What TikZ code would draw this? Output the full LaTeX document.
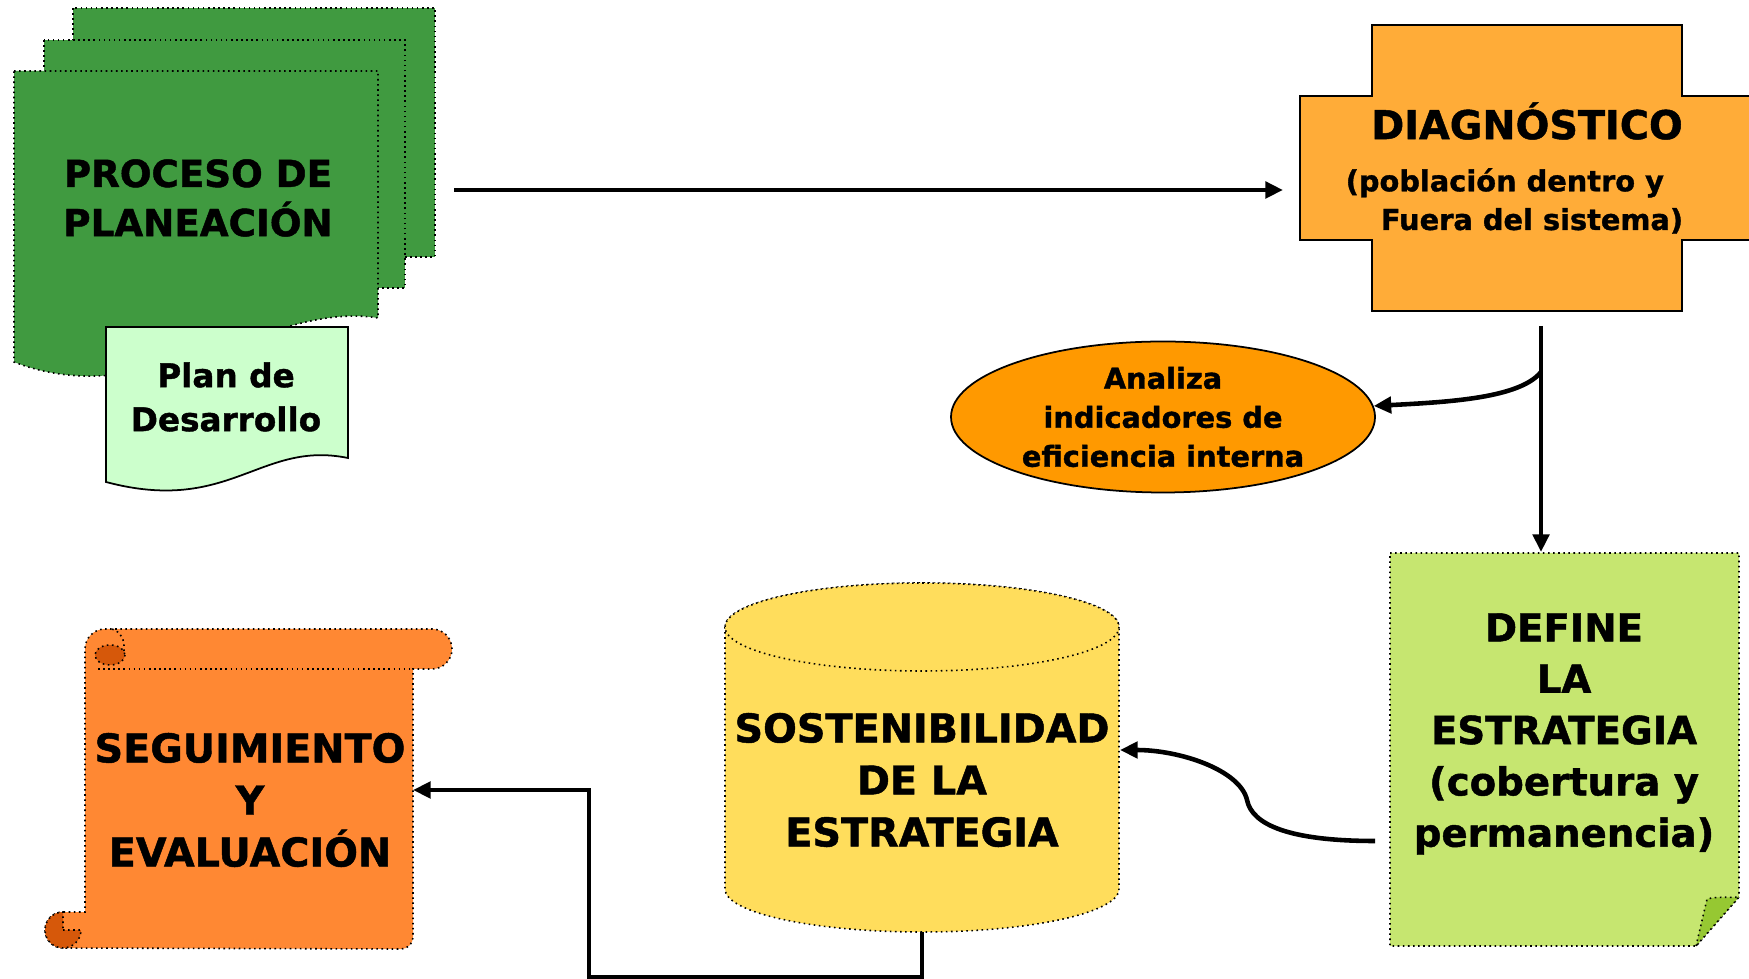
\documentclass[tikz,border=0pt]{standalone}
\usepackage{fontspec}
\setmainfont{DejaVu Sans}[BoldFeatures={FakeBold=1.2}]
\usetikzlibrary{arrows.meta,shapes.geometric}

\definecolor{docgreen}{RGB}{64,154,64}
\definecolor{plangreen}{RGB}{204,255,204}
\definecolor{diagorange}{RGB}{255,172,56}
\definecolor{ellorange}{RGB}{255,153,0}
\definecolor{notegreen}{RGB}{198,230,112}
\definecolor{foldgreen}{RGB}{150,200,50}
\definecolor{cylyellow}{RGB}{255,221,92}
\definecolor{scrollorange}{RGB}{255,136,51}
\definecolor{rolldark}{RGB}{214,88,10}

\tikzset{
  flecha/.style={line width=1.3pt, -{Triangle[length=5pt,width=4.6pt]}},
  punteado/.style={draw=black, densely dotted, line width=0.45pt},
  textobig/.style={font=\bfseries\fontsize{11.3}{14.8}\selectfont, align=center, inner sep=0pt},
  textosmall/.style={font=\bfseries\fontsize{8.2}{11}\selectfont, align=center, inner sep=0pt}
}

\begin{document}
\begin{tikzpicture}[x=0.1mm,y=-0.1mm]

    \useasboundingbox (0,0) rectangle (1749,979);
    \clip (0,0) rectangle (1749,979);

    % Proceso de planeacion (three sheets)
    \filldraw[fill=docgreen, punteado] (73,8) rectangle (435,257);
    \filldraw[fill=docgreen, punteado] (44,40) rectangle (405,288);
    \filldraw[fill=docgreen, punteado] (14,71) -- (378,71) -- (378,318)
        .. controls (270,300) and (150,415) .. (14,362) -- cycle;
    \node[textobig, font=\bfseries\fontsize{10.6}{14}\selectfont] (proceso) at (198,198) {PROCESO DE\\PLANEACIÓN};

    % Plan de desarrollo
    \filldraw[fill=plangreen, draw=black, line width=0.5pt] (106,327) -- (348,327) -- (348,458)
        .. controls (260,440) and (230,515) .. (106,482) -- cycle;
    \node[textobig, font=\bfseries\fontsize{9.3}{12.5}\selectfont] (plan) at (226,397) {Plan de\\Desarrollo};

    % Diagnostico (cross)
    \filldraw[fill=diagorange, draw=black, line width=0.5pt] (1372,25) -- (1682,25) -- (1682,96) -- (1760,96)
        -- (1760,240) -- (1682,240) -- (1682,311) -- (1372,311) -- (1372,240) -- (1300,240)
        -- (1300,96) -- (1372,96) -- cycle;
    \node[textobig] (diag) at (1527,121) {DIAGNÓSTICO};
    \node[textosmall, align=left, anchor=west] (diagsub) at (1345,201)
        {(población dentro y\\\hspace*{10pt}Fuera del sistema)};

    % Analiza indicadores
    \node[ellipse, draw=black, line width=0.5pt, fill=ellorange, minimum width=42.4mm,
          minimum height=15.1mm, textosmall, font=\bfseries\fontsize{8.2}{11.1}\selectfont]
        (analiza) at (1163,417) {Analiza\\indicadores de\\eficiencia interna};

    % Define la estrategia (note)
    \filldraw[fill=notegreen, punteado] (1390,553) -- (1739,553) -- (1739,897) -- (1696,946)
        -- (1390,946) -- cycle;
    \filldraw[fill=foldgreen, punteado] (1696,946) -- (1707,899) .. controls (1718,896) and (1730,898) .. (1739,897) -- cycle;
    \node[textobig, font=\bfseries\fontsize{11}{14.6}\selectfont] (nota) at (1564,734)
        {DEFINE\\LA\\ESTRATEGIA\\(cobertura y\\permanencia)};

    % Sostenibilidad (cylinder)
    \filldraw[fill=cylyellow, punteado] (725,627) -- (725,889) arc (180:0:197 and 43)
        -- (1119,627) arc (0:-180:197 and 44) -- cycle;
    \filldraw[fill=cylyellow, punteado] (922,627) ellipse (197 and 44);
    \node[textobig] (sost) at (922,780) {SOSTENIBILIDAD\\DE LA\\ESTRATEGIA};

    % Seguimiento y evaluacion (scroll)
    \filldraw[fill=scrollorange, punteado] (105,629) -- (432,629) arc (-90:90:20) -- (413,669)
        -- (413,937) arc (0:90:12) -- (63,948) arc (90:270:18) -- (85,912)
        -- (85,649) arc (180:270:20) -- cycle;
    \draw[punteado] (98,669) -- (413,669);
    \filldraw[fill=rolldark, punteado] (110,655) ellipse (15 and 10);
    \draw[punteado] (124,651) .. controls (125,640) and (121,632) .. (112,629);
    \filldraw[fill=rolldark, punteado] (63,930) -- (81,930) arc (0:270:18) -- cycle;
    \node[textobig] (segui) at (250,800) {SEGUIMIENTO\\Y\\EVALUACIÓN};

    % Connector ends
    \coordinate (proc-e) at (454,190);
    \coordinate (diag-w) at (1283,190);
    \coordinate (diag-s) at (1541,326);
    \coordinate (rama) at (1541,372);
    \coordinate (nota-n) at (1541,552);
    \coordinate (nota-w) at (1375,841);
    \coordinate (sost-e) at (1120,750);
    \coordinate (sost-s) at (922,932);
    \coordinate (segui-e) at (413,790);

    % Arrows
    \draw[flecha] (proc-e) -- (diag-w);
    \draw[flecha] (diag-s) -- (nota-n);
    \draw[flecha] (rama) .. controls (1520,398) and (1450,402) .. (analiza.3);
    \draw[flecha] (nota-w) .. controls (1290,841) and (1252,825) .. (1247,800)
        .. controls (1240,770) and (1180,750) .. (sost-e);
    \draw[flecha] (sost-s) |- (589,977) |- (segui-e);

\end{tikzpicture}
\end{document}
